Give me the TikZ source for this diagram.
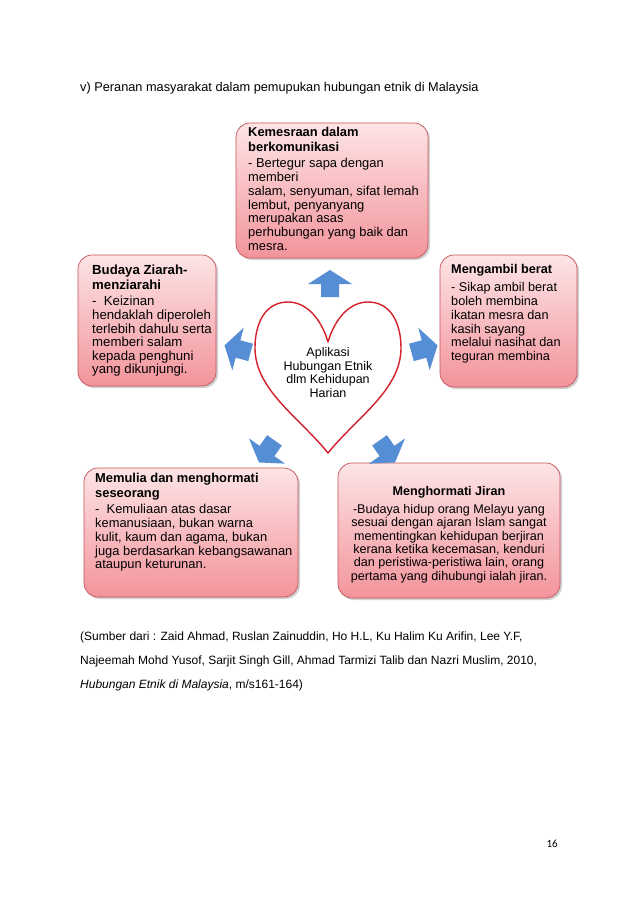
\documentclass[tikz,border=0pt]{standalone}
\usepackage{fontspec}
\setmainfont{Liberation Sans}
\newfontfamily\pagenumfont{Carlito}
\definecolor{boxtop}{RGB}{253,228,229}
\definecolor{boxbot}{RGB}{242,148,155}
\definecolor{boxline}{RGB}{196,84,90}
\definecolor{heartred}{RGB}{212,32,42}
\definecolor{arrowblue}{RGB}{86,142,213}
\newcommand\blkarrow[3]{\fill[arrowblue,shift={(#1,#2)},rotate=#3] (14,0) -- (0,22) -- (0,9) -- (-13,9) -- (-13,-9) -- (0,-9) -- (0,-22) -- cycle;}
\begin{document}
\begin{tikzpicture}[x=1pt,y=-1pt,
  card/.style={draw=boxline,line width=0.7pt,rounded corners=14pt,top color=boxtop,bottom color=boxbot,inner sep=0pt},
  cardshadow/.style={fill=black,opacity=0.18,rounded corners=14pt,inner sep=0pt},
  cardtext/.style={align=left,inner sep=0pt,anchor=north west},
  plain/.style={font=\fontsize{12.3}{14}\selectfont,inner sep=0pt}]
\useasboundingbox[fill=white] (0,0) rectangle (638,903);

\node[plain,anchor=base west,font=\fontsize{12.75}{14}\selectfont] (title) at (80,91) {v) Peranan masyarakat dalam pemupukan hubungan etnik di Malaysia};

% shadows
\node[cardshadow,minimum width=192pt,minimum height=135pt] (s1) at (334,192.5) {};
\node[cardshadow,minimum width=138pt,minimum height=131pt] (s2) at (149,322.5) {};
\node[cardshadow,minimum width=137pt,minimum height=132pt] (s3) at (510.5,323) {};
\node[cardshadow,minimum width=214pt,minimum height=129pt] (s4) at (193,534.5) {};
\node[cardshadow,minimum width=222pt,minimum height=135pt] (s5) at (451,532.5) {};

% boxes
\node[card,minimum width=192pt,minimum height=135pt] (top) at (332,190.5) {};
\node[card,minimum width=138pt,minimum height=131pt] (left) at (147,320.5) {};
\node[card,minimum width=137pt,minimum height=132pt] (right) at (508.5,321) {};
\node[card,minimum width=214pt,minimum height=129pt] (bl) at (191,532.5) {};
\node[card,minimum width=222pt,minimum height=135pt] (br) at (449,530.5) {};

\node[cardtext,font=\fontsize{12.9}{13.7}\selectfont] (toptext) at (248,127) {\textbf{Kemesraan dalam}\\[1pt]\textbf{berkomunikasi}\\[3pt]- Bertegur sapa dengan\\memberi\\salam, senyuman, sifat lemah\\lembut, penyanyang\\merupakan asas\\perhubungan yang baik dan\\mesra.};

\node[cardtext,font=\fontsize{13.2}{13.6}\selectfont] (lefttext) at (92,265) {\textbf{Budaya Ziarah-}\\[1pt]\textbf{menziarahi}\\[3pt]-\ \ Keizinan\\hendaklah diperoleh\\terlebih dahulu serta\\memberi salam\\kepada penghuni\\yang dikunjungi.};

\node[cardtext,font=\fontsize{12.7}{13.9}\selectfont] (righttext) at (451,264.5) {\textbf{Mengambil berat}\\[3.5pt]- Sikap ambil berat\\boleh membina\\ikatan mesra dan\\kasih sayang\\melalui nasihat dan\\teguran membina};

\node[cardtext,font=\fontsize{12.9}{13.7}\selectfont] (bltext) at (95,473) {\textbf{Memulia dan menghormati}\\[1pt]\textbf{seseorang}\\[3pt]-\ \ Kemuliaan atas dasar\\kemanusiaan, bukan warna\\kulit, kaum dan agama, bukan\\juga berdasarkan kebangsawanan\\ataupun keturunan.};

\node[cardtext,align=center,anchor=north,font=\fontsize{12.6}{13.4}\selectfont] (brtext) at (449,486.5) {\textbf{Menghormati Jiran}\\[4pt]-Budaya hidup orang Melayu yang\\sesuai dengan ajaran Islam sangat\\mementingkan kehidupan berjiran\\kerana ketika kecemasan, kenduri\\dan peristiwa-peristiwa lain, orang\\pertama yang dihubungi ialah jiran.};

% heart
\draw[heartred,line width=1.4pt,line join=round] (328,342)
  .. controls (321,318) and (306,302) .. (288,302)
  .. controls (266,302) and (255,322) .. (255,348)
  .. controls (255,390) and (300,418) .. (328,453)
  .. controls (356,418) and (401,390) .. (401,348)
  .. controls (401,322) and (390,302) .. (368,302)
  .. controls (350,302) and (335,318) .. (328,342) -- cycle;
\node[plain,align=center,anchor=north,font=\fontsize{12.5}{13.6}\selectfont] (heart) at (328,347.5) {Aplikasi\\Hubungan Etnik\\dlm Kehidupan\\Harian};

% arrows
\blkarrow{330}{284}{90}
\blkarrow{238}{349}{165}
\blkarrow{424}{349}{15}
\blkarrow{267}{451}{235}
\blkarrow{387}{451}{-55}

\node[plain,align=left,anchor=north west,font=\fontsize{12}{24}\selectfont] (source) at (80,632) {(Sumber dari : Zaid Ahmad, Ruslan Zainuddin, Ho H.L, Ku Halim Ku Arifin, Lee Y.F,\\Najeemah Mohd Yusof, Sarjit Singh Gill, Ahmad Tarmizi Talib dan Nazri Muslim, 2010,\\\textit{Hubungan Etnik di Malaysia}, m/s161-164)};

\node[inner sep=0pt,anchor=base east,font=\pagenumfont\fontsize{11}{13}\selectfont] (pagenum) at (558,847) {16};
\end{tikzpicture}
\end{document}
